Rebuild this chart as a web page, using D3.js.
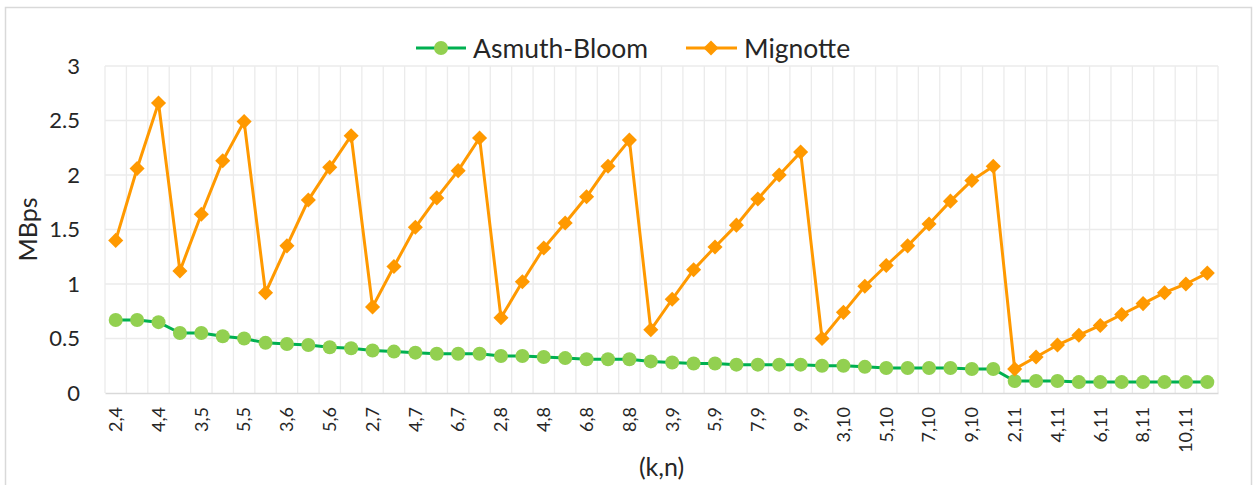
<!DOCTYPE html>
<html>
<head>
<meta charset="utf-8">
<script src="https://cdn.jsdelivr.net/npm/d3@7"></script>
<style>
  html, body { margin: 0; padding: 0; background: #fff; }
  svg { display: block; font-family: Lato, "Open Sans", "Noto Sans", sans-serif; }
</style>
</head>
<body>
<svg id="chart" width="1255" height="485"></svg>
<script>
// (k,n) pairs: for each n from 4 to 11, k runs from 2 to n
const nValues = [4, 5, 6, 7, 8, 9, 10, 11];
const categories = nValues.flatMap(n => d3.range(2, n + 1).map(k => `${k},${n}`));

// Throughput in MBps
const asmuthBloom = [
  0.67, 0.67, 0.65,
  0.55, 0.55, 0.52, 0.50,
  0.46, 0.45, 0.44, 0.42, 0.41,
  0.39, 0.38, 0.37, 0.36, 0.36, 0.36,
  0.34, 0.34, 0.33, 0.32, 0.31, 0.31, 0.31,
  0.29, 0.28, 0.27, 0.27, 0.26, 0.26, 0.26, 0.26,
  0.25, 0.25, 0.24, 0.23, 0.23, 0.23, 0.23, 0.22, 0.22,
  0.11, 0.11, 0.11, 0.10, 0.10, 0.10, 0.10, 0.10, 0.10, 0.10
];
const mignotte = [
  1.40, 2.06, 2.66,
  1.12, 1.64, 2.13, 2.49,
  0.92, 1.35, 1.77, 2.07, 2.36,
  0.79, 1.16, 1.52, 1.79, 2.04, 2.34,
  0.69, 1.02, 1.33, 1.56, 1.80, 2.08, 2.32,
  0.58, 0.86, 1.13, 1.34, 1.54, 1.78, 2.00, 2.21,
  0.50, 0.74, 0.98, 1.17, 1.35, 1.55, 1.76, 1.95, 2.08,
  0.22, 0.33, 0.44, 0.53, 0.62, 0.72, 0.82, 0.92, 1.00, 1.10
];
const yTicks = [0, 0.5, 1, 1.5, 2, 2.5, 3];
const seriesNames = ["Asmuth-Bloom", "Mignotte"];

const W = 1255, H = 485;
const margin = { left: 105, right: 37, top: 66, bottom: 92 };
const svg = d3.select("#chart");
const textColor = "#262626";

// chart frame
svg.append("rect")
  .attr("x", 5.5).attr("y", 7.5)
  .attr("width", 1246).attr("height", 485)
  .attr("fill", "#fff").attr("stroke", "#d9d9d9").attr("stroke-width", 1.5);

const x = d3.scaleBand()
  .domain(categories)
  .range([margin.left, W - margin.right])
  .paddingInner(0).paddingOuter(0);
const y = d3.scaleLinear().domain([0, 3]).range([H - margin.bottom, margin.top]);
const cx = d => x(d) + x.bandwidth() / 2;

const g = svg.append("g");

// vertical gridlines on category boundaries
const bounds = categories.map(c => x(c)).concat([x.range()[1]]);
g.selectAll("line.vgrid").data(bounds).join("line")
  .attr("class", "vgrid")
  .attr("x1", d => d).attr("x2", d => d)
  .attr("y1", y(3)).attr("y2", y(0))
  .attr("stroke", "#ebebeb").attr("stroke-width", 1.3);

// horizontal gridlines
g.selectAll("line.hgrid").data(yTicks.filter(t => t > 0)).join("line")
  .attr("class", "hgrid")
  .attr("x1", x.range()[0]).attr("x2", x.range()[1])
  .attr("y1", d => y(d)).attr("y2", d => y(d))
  .attr("stroke", "#ebebeb").attr("stroke-width", 1.3);

// y axis labels
const yAxis = d3.axisLeft(y).tickValues(yTicks).tickSize(0).tickPadding(25)
  .tickFormat(d3.format("~g"));
const yg = svg.append("g").attr("transform", `translate(${margin.left},0)`).call(yAxis);
yg.select(".domain").remove();
yg.selectAll("text").attr("font-size", 22).attr("fill", textColor)
  .attr("font-family", "Lato, 'Open Sans', sans-serif");

// x axis: every other category label, rotated
const xAxis = d3.axisBottom(x)
  .tickValues(categories.filter((c, i) => i % 2 === 0))
  .tickSize(0).tickPadding(0);
const xg = svg.append("g").attr("transform", `translate(0,${y(0)})`).call(xAxis);
xg.select(".domain").attr("stroke", "#d9d9d9").attr("stroke-width", 1.5);
xg.selectAll("text")
  .attr("font-size", 18).attr("fill", textColor)
  .attr("font-family", "Lato, 'Open Sans', sans-serif")
  .attr("text-anchor", "end")
  .attr("dy", "0.35em")
  .attr("transform", "translate(0,14) rotate(-90)")
  .attr("x", 0).attr("y", 0);

// axis titles
svg.append("text")
  .attr("transform", `translate(37,${(y(0) + y(3)) / 2}) rotate(-90)`)
  .attr("text-anchor", "middle")
  .attr("font-size", 25).attr("fill", textColor)
  .text("MBps");
svg.append("text")
  .attr("x", (x.range()[0] + x.range()[1]) / 2).attr("y", 476)
  .attr("text-anchor", "middle")
  .attr("font-size", 25).attr("fill", textColor)
  .text("(k,n)");

// series
const line = d3.line().x((d, i) => cx(categories[i])).y(d => y(d));

svg.append("path").datum(asmuthBloom)
  .attr("d", line).attr("fill", "none")
  .attr("stroke", "#00b050").attr("stroke-width", 3);
svg.append("g").selectAll("circle").data(asmuthBloom).join("circle")
  .attr("cx", (d, i) => cx(categories[i])).attr("cy", d => y(d))
  .attr("r", 7).attr("fill", "#92d050");

svg.append("path").datum(mignotte)
  .attr("d", line).attr("fill", "none")
  .attr("stroke", "#ff9900").attr("stroke-width", 3);
const diamond = d3.symbol().type(d3.symbolDiamond2).size(145);
svg.append("g").selectAll("path").data(mignotte).join("path")
  .attr("d", diamond)
  .attr("transform", (d, i) => `translate(${cx(categories[i])},${y(d)})`)
  .attr("fill", "#ff9900");

// legend
const legY = 48;
const leg = svg.append("g");
leg.append("line").attr("x1", 416).attr("x2", 466).attr("y1", legY).attr("y2", legY)
  .attr("stroke", "#00b050").attr("stroke-width", 3);
leg.append("circle").attr("cx", 441).attr("cy", legY).attr("r", 7).attr("fill", "#92d050");
leg.append("text").attr("x", 473).attr("y", legY).attr("dy", "0.36em")
  .attr("font-size", 26.5).attr("fill", textColor).text(seriesNames[0]);
leg.append("line").attr("x1", 686).attr("x2", 737).attr("y1", legY).attr("y2", legY)
  .attr("stroke", "#ff9900").attr("stroke-width", 3);
leg.append("path").attr("d", diamond)
  .attr("transform", `translate(711,${legY})`).attr("fill", "#ff9900");
leg.append("text").attr("x", 744).attr("y", legY).attr("dy", "0.36em")
  .attr("font-size", 26.5).attr("fill", textColor).text(seriesNames[1]);
</script>
</body>
</html>
